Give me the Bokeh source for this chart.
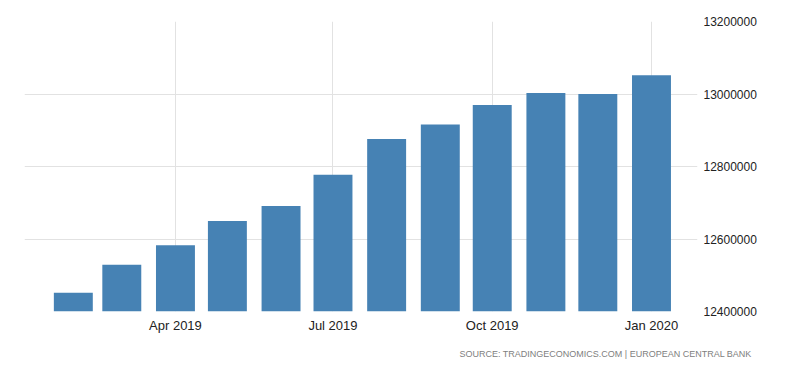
from datetime import datetime
from bokeh.plotting import figure
from bokeh.models import (ColumnDataSource, Range1d, FixedTicker,
                          DatetimeTickFormatter, NumeralTickFormatter, Title)
from bokeh.embed import file_html
from bokeh.resources import INLINE

# Data
months = ["2019-02", "2019-03", "2019-04", "2019-05", "2019-06", "2019-07",
          "2019-08", "2019-09", "2019-10", "2019-11", "2019-12", "2020-01"]
values = [12452000, 12529000, 12583000, 12650000, 12691000, 12777000,
          12876000, 12916000, 12970000, 13003000, 13000000, 13052000]
x_tick_dates = ["2019-04", "2019-07", "2019-10", "2020-01"]
y_ticks = [12400000, 12600000, 12800000, 13000000, 13200000]
source_text = "SOURCE:  TRADINGECONOMICS.COM  |  EUROPEAN  CENTRAL  BANK"

dates = [datetime.strptime(m, "%Y-%m") for m in months]
tick_ms = [datetime.strptime(m, "%Y-%m").timestamp() * 1000 for m in x_tick_dates]
src = ColumnDataSource(dict(x=dates, top=values))

p = figure(width=784, height=373, x_axis_type="datetime", output_backend="svg",
           toolbar_location=None, y_axis_location="right",
           x_range=Range1d(datetime(2019, 1, 3, 19), datetime(2020, 1, 27, 14)),
           y_range=Range1d(12400000, 13200000),
           min_border_left=24, min_border_top=21, min_border_right=87,
           min_border_bottom=62)
p.outline_line_color = None
p.background_fill_color = "white"
p.border_fill_color = "white"

day_ms = 86400000
p.vbar(x="x", top="top", bottom=12400000, width=22.5 * day_ms, source=src,
       fill_color="#4682b4", line_color=None)

# axes
xa = p.xaxis[0]
xa.ticker = FixedTicker(ticks=tick_ms)
xa.formatter = DatetimeTickFormatter(months="%b %Y", days="%b %Y", years="%b %Y")
xa.axis_line_color = None
xa.major_tick_line_color = None
xa.minor_tick_line_color = None
xa.major_tick_out = 0
xa.minor_tick_out = 0
xa.major_label_text_font = "Liberation Sans"
xa.major_label_text_font_size = "13px"
xa.major_label_text_color = "#222222"
xa.major_label_standoff = 6

ya = p.yaxis[0]
ya.ticker = FixedTicker(ticks=y_ticks)
ya.formatter = NumeralTickFormatter(format="0")
ya.axis_line_color = None
ya.major_tick_line_color = None
ya.minor_tick_line_color = None
ya.major_tick_out = 0
ya.minor_tick_out = 0
ya.major_label_text_font = "Liberation Sans"
ya.major_label_text_font_size = "12px"
ya.major_label_text_color = "#222222"
ya.major_label_standoff = 6

p.xgrid.ticker = FixedTicker(ticks=tick_ms)
p.ygrid.ticker = FixedTicker(ticks=y_ticks)
p.xgrid.grid_line_color = "#e2e2e2"
p.ygrid.grid_line_color = "#e2e2e2"

t = Title(text=source_text, align="left", offset=435, text_font="Liberation Sans",
          text_font_size="9px", text_color="#808080", text_font_style="normal",
          standoff=23)
p.add_layout(t, "below")

open("out.html", "w").write(file_html(p, INLINE))
